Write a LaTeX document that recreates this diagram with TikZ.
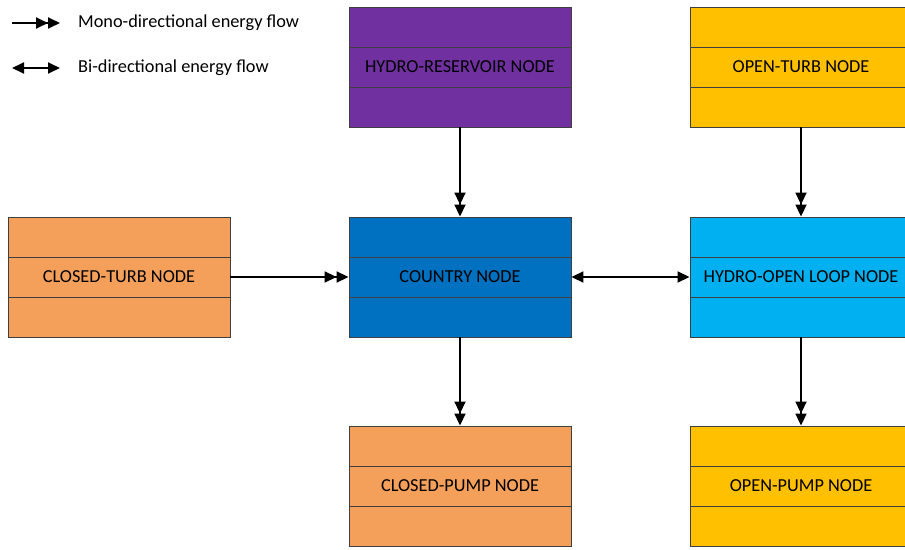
\documentclass[tikz,border=0pt]{standalone}
\usepackage{fontspec}
\setmainfont{Carlito}
\usetikzlibrary{arrows.meta,calc}
\definecolor{reservoir}{HTML}{7030A0}
\definecolor{closed}{HTML}{F4A05A}
\definecolor{country}{HTML}{0070C0}
\definecolor{openloop}{HTML}{00B0F0}
\definecolor{openpart}{HTML}{FFC000}
\definecolor{edge}{HTML}{3F3F3F}
\tikzset{
  unit/.style={draw=edge, line width=0.9pt, minimum width=222pt, minimum height=120pt,
    inner sep=0pt, font=\fontsize{18.3}{22}\selectfont, text=black,
    path picture={
      \draw[edge, line width=0.9pt]
        ($(path picture bounding box.north west)!1/3!(path picture bounding box.south west)$) --
        ($(path picture bounding box.north east)!1/3!(path picture bounding box.south east)$)
        ($(path picture bounding box.north west)!2/3!(path picture bounding box.south west)$) --
        ($(path picture bounding box.north east)!2/3!(path picture bounding box.south east)$);
    }},
  mono/.style={line width=1.8pt, -{Triangle[length=12pt,width=11pt]Triangle[length=12pt,width=11pt]}},
  bi/.style={line width=1.8pt, {Triangle[length=12pt,width=11pt]}-{Triangle[length=12pt,width=11pt]}},
  legend/.style={anchor=west, inner sep=0pt, font=\fontsize{18.3}{22}\selectfont}
}
\begin{document}
\begin{tikzpicture}[x=1pt,y=-1pt]
  \useasboundingbox (0,0) rectangle (905,549);
  \clip (0,0) rectangle (905,549);

  % legend
  \coordinate (m1) at (12,23);
  \coordinate (m2) at (60,23);
  \coordinate (b1) at (12,68);
  \coordinate (b2) at (60,68);
  \draw[mono] (m1) -- (m2);
  \draw[bi] (b1) -- (b2);
  \node[legend] (mtext) at (78,23) {Mono-directional energy flow};
  \node[legend] (btext) at (78,68) {Bi-directional energy flow};

  % nodes
  \node[unit, fill=reservoir] (res) at (460,67) {HYDRO-RESERVOIR NODE};
  \node[unit, fill=openpart] (oturb) at (801,67) {OPEN-TURB NODE};
  \node[unit, fill=closed] (cturb) at (119,277) {CLOSED-TURB NODE};
  \node[unit, fill=country] (cty) at (460,277) {COUNTRY NODE};
  \node[unit, fill=openloop] (oloop) at (801,277) {HYDRO-OPEN LOOP NODE};
  \node[unit, fill=closed] (cpump) at (460,486) {CLOSED-PUMP NODE};
  \node[unit, fill=openpart] (opump) at (801,486) {OPEN-PUMP NODE};

  % energy flows
  \draw[mono] (res) -- (cty);
  \draw[mono] (cturb) -- (cty);
  \draw[mono] (cty) -- (cpump);
  \draw[mono] (oturb) -- (oloop);
  \draw[mono] (oloop) -- (opump);
  \draw[bi] (cty) -- (oloop);
\end{tikzpicture}
\end{document}
